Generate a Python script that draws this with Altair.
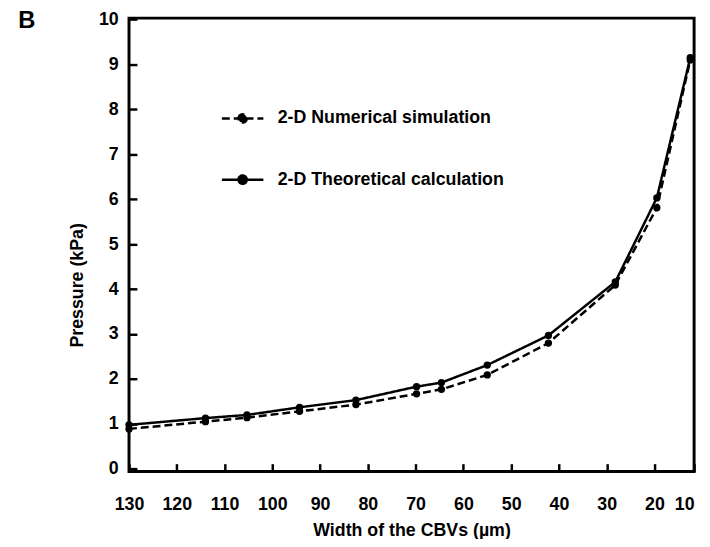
import altair as alt
import pandas as pd

# Data
width_um = [130, 114, 105.3, 94.3, 82.5, 69.8, 64.6, 55, 42.2, 28.2, 19.5, 12.5]
numerical = [0.89, 1.05, 1.14, 1.28, 1.43, 1.67, 1.77, 2.09, 2.80, 4.09, 5.81, 9.10]
theoretical = [0.98, 1.13, 1.20, 1.37, 1.53, 1.83, 1.92, 2.31, 2.97, 4.16, 6.03, 9.15]
series_names = ["2-D Numerical simulation", "2-D Theoretical calculation"]
x_ticks = [130, 120, 110, 100, 90, 80, 70, 60, 50, 40, 30, 20, 11.7]
y_ticks = [0, 1, 2, 3, 4, 5, 6, 7, 8, 9, 10]

rows = []
for name, vals in zip(series_names, [numerical, theoretical]):
    for w, p in zip(width_um, vals):
        rows.append({"width": w, "pressure": p, "series": name})
df = pd.DataFrame(rows)

FONT = "Liberation Sans"

legend_symbol = "M-1,0H1M-0.2,0A0.2,0.2,0,1,1,0.2,0A0.2,0.2,0,1,1,-0.2,0Z"

x_enc = alt.X(
    "width:Q",
    scale=alt.Scale(domain=[130, 11.7], nice=False, zero=False),
    axis=alt.Axis(title="Width of the CBVs (µm)", values=x_ticks,
                  labelExpr="datum.value < 15 ? '10' : datum.label",
                  labelAlign={"condition": {"test": "datum.value < 15", "value": "right"},
                              "value": "center"},
                  offset=-8, tickSize=8, labelPadding=24, titlePadding=9),
)
y_enc = alt.Y(
    "pressure:Q",
    scale=alt.Scale(domain=[-0.06, 10.03], nice=False, zero=False),
    axis=alt.Axis(title="Pressure (kPa)", values=y_ticks,
                  offset=-8, tickSize=8, labelPadding=11,
                  titlePadding=12, titleY=270),
)

base = alt.Chart(df)

lines = base.mark_line(color="black", strokeWidth=2.5).encode(
    x=x_enc,
    y=y_enc,
    strokeDash=alt.StrokeDash(
        "series:N",
        scale=alt.Scale(domain=series_names, range=[[8, 4], [1, 0]]),
        legend=alt.Legend(title=None, orient="none", legendX=92.5, legendY=79,
                          symbolType=legend_symbol, symbolSize=1764,
                          symbolStrokeWidth=2.5, symbolStrokeColor="black",
                          symbolFillColor="black", labelOffset=13,
                          rowPadding=30, padding=0, labelLimit=0,
                          labelFont=FONT, labelFontSize=18,
                          labelFontWeight="bold", labelColor="black"),
    ),
)

points = base.mark_circle(color="black", size=55, opacity=1).encode(
    x=x_enc,
    y=y_enc,
    detail="series:N",
)

chart = (
    alt.layer(lines, points)
    .properties(
        width=572,
        height=459,
        padding={"left": 122.5, "top": 7, "right": 8, "bottom": 65},
        autosize=alt.AutoSizeParams(type="none"),
        title=alt.TitleParams("B", anchor="start", frame="group", dx=-112, dy=23,
                              fontSize=24, fontWeight="bold", font=FONT,
                              color="black", offset=0),
    )
    .configure_view(stroke="black", strokeWidth=3)
    .configure_axis(
        domain=False, grid=False, tickColor="black", tickWidth=2.5,
        labelFont=FONT, labelFontSize=18, labelFontWeight="bold", labelColor="black",
        titleFont=FONT, titleFontSize=18, titleFontWeight="bold", titleColor="black",
        labelOverlap=False, labelFlush=False,
    )
)

chart.save("out.html", embed_options={"renderer": "svg", "actions": False})
